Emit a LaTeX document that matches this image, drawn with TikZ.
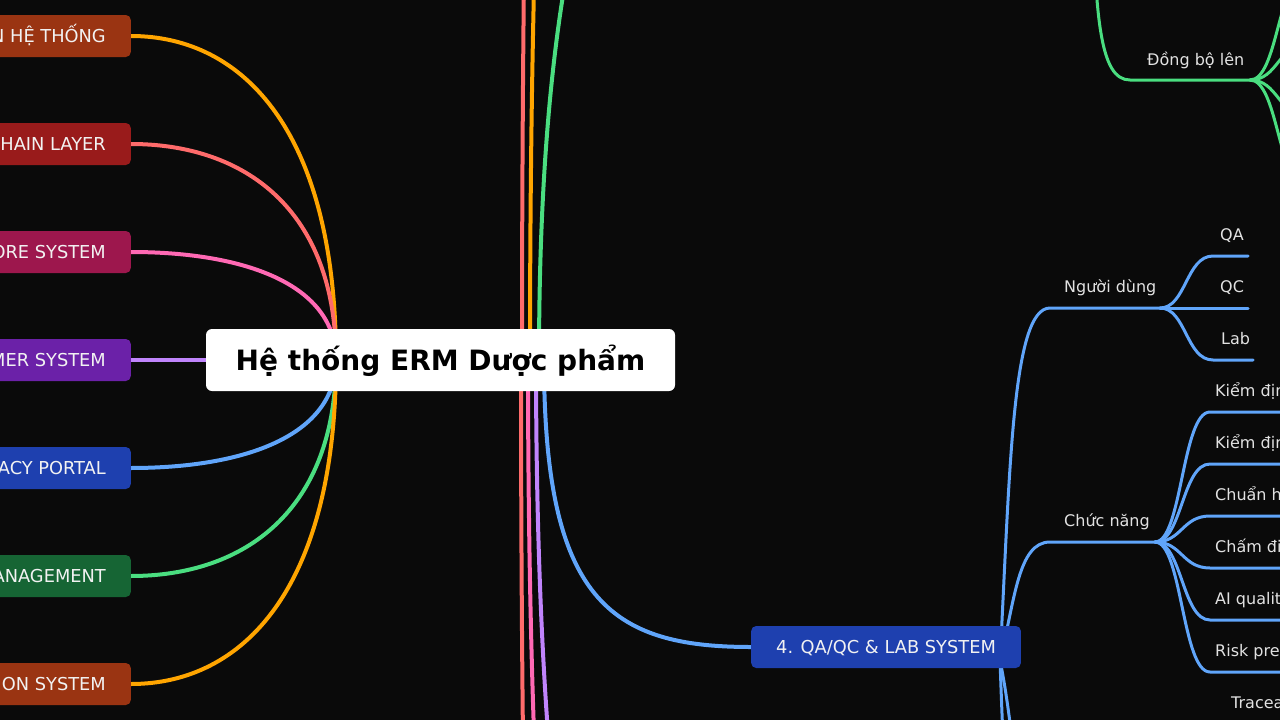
\documentclass[tikz,border=0pt]{standalone}
\usepackage{fontspec}
\setmainfont{DejaVu Sans}
\definecolor{bgc}{HTML}{0A0A0A}
\definecolor{bx1}{HTML}{9A3412}
\definecolor{bx2}{HTML}{991B1B}
\definecolor{bx3}{HTML}{9D174D}
\definecolor{bx4}{HTML}{6B21A8}
\definecolor{bx5}{HTML}{1E40AF}
\definecolor{bx6}{HTML}{166534}
\definecolor{eor}{HTML}{FFA500}
\definecolor{ered}{HTML}{FF6B6B}
\definecolor{epk}{HTML}{FF69B4}
\definecolor{epu}{HTML}{C084FC}
\definecolor{ebl}{HTML}{60A5FA}
\definecolor{egr}{HTML}{4ADE80}
\definecolor{boxtxt}{HTML}{F2F2F2}
\definecolor{labtxt}{HTML}{E2E2E2}
\pgfdeclarelayer{bg}
\pgfsetlayers{bg,main}
\tikzset{
  lbox/.style={anchor=east, rounded corners=5pt, minimum height=42pt, inner xsep=25pt, inner ysep=0pt,
    text=boxtxt, font=\fontsize{17.8}{20}\selectfont, text height=13pt, text depth=0pt},
  rootbox/.style={fill=white, rounded corners=6pt, minimum height=62pt, minimum width=469pt, inner sep=0pt,
    text=black, font=\fontsize{28}{32}\selectfont\bfseries, text height=20.4pt, text depth=0pt},
  lab/.style={anchor=west, inner sep=0pt, text=labtxt, font=\fontsize{16}{19}\selectfont,
    text height=11.7pt, text depth=0pt},
  medge/.style={line width=4pt, line cap=round},
  sedge/.style={line width=3pt, line cap=round},
}
\begin{document}
\begin{tikzpicture}[x=1pt,y=-1pt]
\useasboundingbox (0,0) rectangle (1280,720);
\begin{pgfonlayer}{bg}
  \fill[bgc] (0,0) rectangle (1280,720);
\end{pgfonlayer}

% nodes
\node[rootbox] (root) at (440.5,360) {Hệ thống ERM Dược phẩm};
\node[lbox, fill=bx1] (b1) at (131,36)  {TỔNG QUAN HỆ THỐNG};
\node[lbox, fill=bx2] (b2) at (131,144) {BLOCKCHAIN LAYER};
\node[lbox, fill=bx3] (b3) at (131,252) {AI CORE SYSTEM};
\node[lbox, fill=bx4] (b4) at (131,360) {CUSTOMER SYSTEM};
\node[lbox, fill=bx5] (b5) at (131,468) {PHARMACY PORTAL};
\node[lbox, fill=bx6] (b6) at (131,576) {INVENTORY MANAGEMENT};
\node[lbox, fill=bx1] (b7) at (131,684) {DISTRIBUTION SYSTEM};
\node[lbox, fill=bx5, anchor=west] (n4) at (751,647) {4. QA/QC \& LAB SYSTEM};

\node[lab] (nd) at (1064,287) {Người dùng};
\node[lab] (cn) at (1064,521) {Chức năng};
\node[lab] (db) at (1147,60) {Đồng bộ lên};
\node[lab] (qa) at (1220,235) {QA};
\node[lab] (qc) at (1220,287) {QC};
\node[lab] (lb) at (1221,339) {Lab};
\node[lab] (g1) at (1215,391) {Kiểm định nguyên liệu};
\node[lab] (g2) at (1215,443) {Kiểm định thành phẩm};
\node[lab] (g3) at (1215,495) {Chuẩn hóa quy trình};
\node[lab] (g4) at (1215,547) {Chấm điểm chất lượng};
\node[lab] (g5) at (1215,599) {AI quality control};
\node[lab] (g6) at (1215,651) {Risk prediction};
\node[lab] (tr) at (1231,703) {Traceability};

% hubs and off-screen ends
\coordinate (hubL) at (336,360);
\coordinate (rt1) at (522,360); \coordinate (ot1) at (750,-1800);
\coordinate (rt2) at (530,360); \coordinate (ot2) at (750,-1100);
\coordinate (rt3) at (539,360); \coordinate (ot3) at (750,-321);
\coordinate (rb1) at (521,360); \coordinate (ob1) at (750,2500);
\coordinate (rb2) at (528,360); \coordinate (ob2) at (750,1700);
\coordinate (rb3) at (536,360); \coordinate (ob3) at (750,1300);
\coordinate (rb4) at (544,360);
\coordinate (s4) at (1000,660);
\coordinate (ndc) at (1050,308); \coordinate (ndf) at (1160,308);
\coordinate (cnc) at (1050,542); \coordinate (cnf) at (1155,542);
\coordinate (c3) at (1050,860); \coordinate (c4) at (1050,986);
\coordinate (gpar) at (1093,-150);
\coordinate (dbc) at (1130,80); \coordinate (dbf) at (1250,80);

\begin{pgfonlayer}{bg}
  % left branches
  \draw[medge, eor]  (b1.east) .. controls +(113,0) and +(0,-227) .. (hubL);
  \draw[medge, ered] (b2.east) .. controls +(113,0) and +(0,-151) .. (hubL);
  \draw[medge, epk]  (b3.east) .. controls +(113,0) and +(0,-76) .. (hubL);
  \draw[medge, epu]  (b4.east) -- (root.west);
  \draw[medge, ebl]  (b5.east) .. controls +(113,0) and +(0,76) .. (hubL);
  \draw[medge, egr]  (b6.east) .. controls +(113,0) and +(0,151) .. (hubL);
  \draw[medge, eor]  (b7.east) .. controls +(113,0) and +(0,227) .. (hubL);
  % right branches
  \draw[medge, ered] (rt1) .. controls (522,-1500) and (650,-1800) .. (ot1);
  \draw[medge, eor]  (rt2) .. controls (530,-900) and (650,-1100) .. (ot2);
  \draw[medge, egr]  (rt3) .. controls (539,-170) and (650,-321) .. (ot3);
  \draw[medge, ered] (rb1) .. controls (521,2200) and (650,2500) .. (ob1);
  \draw[medge, epk]  (rb2) .. controls (528,1400) and (650,1700) .. (ob2);
  \draw[medge, epu]  (rb3) .. controls (536,1100) and (650,1300) .. (ob3);
  \draw[medge, ebl]  (rb4) .. controls (544,600) and (610,647) .. (n4.west);
  % QA/QC subtree
  \begin{scope}[sedge, ebl]
    \draw (s4) .. controls (1010,470) and (1012,308) .. (ndc) -- (ndf);
    \draw (ndf) .. controls (1186,308) and (1186,256) .. (1213,256) -- (1248,256);
    \draw (ndf) -- (1248,308);
    \draw (ndf) .. controls (1186,308) and (1186,360) .. (1213,360) -- (1253,360);
    \draw (s4) .. controls (1015,600) and (1018,542) .. (cnc) -- (cnf);
    \foreach \yy in {412,464,516,568,620,672}
      \draw (cnf) .. controls (1182,542) and (1182,\yy) .. (1210,\yy) -- (1300,\yy);
    \draw (s4) .. controls (1020,760) and (1015,860) .. (c3);
    \draw (s4) .. controls (1005,800) and (1012,986) .. (c4);
  \end{scope}
  % green subtree
  \begin{scope}[sedge, egr]
    \draw (gpar) .. controls (1093,20) and (1100,80) .. (dbc) -- (dbf);
    \foreach \yy in {-25,45,115,185}
      \draw (dbf) .. controls (1278,80) and (1278,\yy) .. (1306,\yy) -- (1400,\yy);
  \end{scope}
\end{pgfonlayer}
\end{tikzpicture}
\end{document}
